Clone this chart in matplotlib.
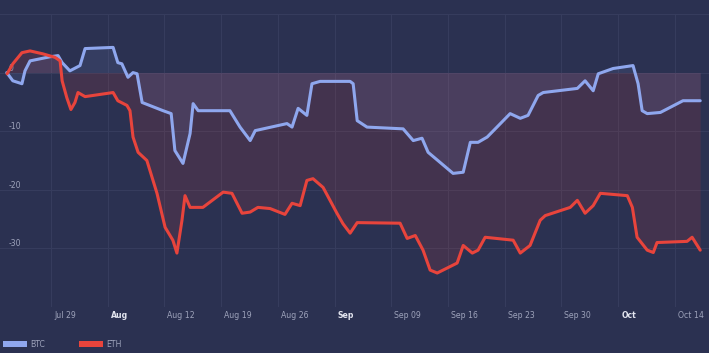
import pandas as pd
import matplotlib
matplotlib.use("Agg")
import matplotlib.pyplot as plt
import matplotlib.transforms as mtransforms
from matplotlib.patches import Patch

# Variation en % depuis le début de la période
btc_dates = [
    "2019-07-23 13:00", "2019-07-24 07:00", "2019-07-25 10:00", "2019-07-25 19:00",
    "2019-07-26 10:00", "2019-07-28 21:00", "2019-07-29 21:00", "2019-07-30 09:00",
    "2019-07-31 08:00", "2019-08-01 14:00", "2019-08-02 05:00", "2019-08-05 16:00",
    "2019-08-06 06:00", "2019-08-06 18:00", "2019-08-07 12:00", "2019-08-08 03:00",
    "2019-08-08 15:00", "2019-08-09 06:00", "2019-08-11 20:00", "2019-08-12 20:00",
    "2019-08-13 07:00", "2019-08-14 07:00", "2019-08-15 04:00", "2019-08-15 13:00",
    "2019-08-16 04:00", "2019-08-20 02:00", "2019-08-21 08:00", "2019-08-22 14:00",
    "2019-08-23 05:00", "2019-08-27 03:00", "2019-08-27 18:00", "2019-08-28 12:00",
    "2019-08-29 14:00", "2019-08-30 05:00", "2019-08-31 05:00", "2019-09-03 22:00",
    "2019-09-04 07:00", "2019-09-04 19:00", "2019-09-06 00:00", "2019-09-10 11:00",
    "2019-09-11 17:00", "2019-09-12 19:00", "2019-09-13 13:00", "2019-09-15 00:00",
    "2019-09-16 15:00", "2019-09-17 21:00", "2019-09-18 18:00", "2019-09-19 17:00",
    "2019-09-20 20:00", "2019-09-22 01:00", "2019-09-23 16:00", "2019-09-24 22:00",
    "2019-09-25 21:00", "2019-09-27 03:00", "2019-09-27 18:00", "2019-10-01 23:00",
    "2019-10-02 22:00", "2019-10-03 22:00", "2019-10-04 13:00", "2019-10-06 09:00",
    "2019-10-08 20:00", "2019-10-09 11:00", "2019-10-09 23:00", "2019-10-10 14:00",
    "2019-10-12 05:00", "2019-10-15 00:00", "2019-10-17 03:00",
]
btc = [
    0.0, -1.4, -1.9, 0.3, 2.0, 2.7, 2.9, 1.7, 0.3, 1.2, 4.1, 4.3,
    1.7, 1.5, -0.8, 0.0, -0.2, -5.1, -6.5, -7.0, -13.3, -15.5, -10.4, -5.3,
    -6.5, -6.5, -9.3, -11.6, -9.9, -8.7, -9.3, -6.1, -7.3, -1.9, -1.5, -1.5,
    -1.9, -8.2, -9.3, -9.6, -11.6, -11.2, -13.6, -15.3, -17.2, -17.0, -11.9, -11.9,
    -11.0, -9.3, -7.0, -7.8, -7.3, -3.9, -3.4, -2.7, -1.4, -3.1, -0.2, 0.7,
    1.2, -1.9, -6.5, -7.0, -6.8, -4.8, -4.8,
]

eth_dates = [
    "2019-07-23 14:00", "2019-07-24 07:00", "2019-07-25 10:00", "2019-07-26 10:00",
    "2019-07-28 00:00", "2019-07-29 12:00", "2019-07-30 03:00", "2019-07-30 09:00",
    "2019-07-30 23:00", "2019-07-31 11:00", "2019-07-31 23:00", "2019-08-01 08:00",
    "2019-08-02 05:00", "2019-08-05 16:00", "2019-08-06 06:00", "2019-08-07 09:00",
    "2019-08-07 18:00", "2019-08-08 03:00", "2019-08-08 18:00", "2019-08-09 20:00",
    "2019-08-11 02:00", "2019-08-12 02:00", "2019-08-13 01:00", "2019-08-13 13:00",
    "2019-08-14 04:00", "2019-08-14 13:00", "2019-08-15 04:00", "2019-08-16 18:00",
    "2019-08-19 06:00", "2019-08-20 08:00", "2019-08-21 14:00", "2019-08-22 14:00",
    "2019-08-23 13:00", "2019-08-25 01:00", "2019-08-26 21:00", "2019-08-27 18:00",
    "2019-08-28 18:00", "2019-08-29 14:00", "2019-08-30 08:00", "2019-08-31 14:00",
    "2019-09-02 07:00", "2019-09-03 01:00", "2019-09-03 22:00", "2019-09-04 19:00",
    "2019-09-10 02:00", "2019-09-10 23:00", "2019-09-11 23:00", "2019-09-12 22:00",
    "2019-09-13 19:00", "2019-09-14 16:00", "2019-09-17 03:00", "2019-09-17 21:00",
    "2019-09-19 00:00", "2019-09-19 17:00", "2019-09-20 14:00", "2019-09-24 01:00",
    "2019-09-24 22:00", "2019-09-26 03:00", "2019-09-27 09:00", "2019-09-28 00:00",
    "2019-10-01 02:00", "2019-10-01 23:00", "2019-10-02 22:00", "2019-10-03 22:00",
    "2019-10-04 19:00", "2019-10-08 03:00", "2019-10-08 18:00", "2019-10-09 08:00",
    "2019-10-10 14:00", "2019-10-11 08:00", "2019-10-11 19:00", "2019-10-15 12:00",
    "2019-10-16 03:00", "2019-10-17 03:00",
]
eth = [
    -0.2, 1.5, 3.4, 3.7, 3.2, 2.6, 2.0, -1.4, -4.3, -6.3, -5.1, -3.4,
    -4.1, -3.4, -4.8, -5.6, -6.5, -11.0, -13.6, -15.0, -20.6, -26.4, -28.6, -30.8,
    -25.2, -21.0, -23.0, -23.0, -20.4, -20.6, -24.0, -23.8, -23.0, -23.2, -24.2, -22.3,
    -22.7, -18.4, -18.1, -19.6, -24.0, -25.8, -27.4, -25.6, -25.7, -28.3, -27.8, -30.3,
    -33.7, -34.2, -32.5, -29.5, -30.8, -30.3, -28.1, -28.6, -30.8, -29.5, -25.2, -24.4,
    -23.0, -21.8, -24.0, -22.7, -20.6, -21.0, -23.0, -28.1, -30.3, -30.7, -29.0, -28.8,
    -28.1, -30.3,
]

tick_dates = ["2019-07-29", "2019-08-05", "2019-08-12", "2019-08-19", "2019-08-26",
              "2019-09-02", "2019-09-09", "2019-09-16", "2019-09-23", "2019-09-30",
              "2019-10-07", "2019-10-14"]
tick_labels = ["Jul 29", "Aug", "Aug 12", "Aug 19", "Aug 26", "Sep", "Sep 09",
               "Sep 16", "Sep 23", "Sep 30", "Oct", "Oct 14"]
month_labels = ["Aug", "Sep", "Oct"]
y_ticks = [10, 0, -10, -20, -30, -40]
y_labels = ["", "0", "-10", "-20", "-30", ""]

bg = "#2b3151"
c_btc = "#8fa7ee"
c_eth = "#e8443c"

bt = pd.to_datetime(btc_dates)
et = pd.to_datetime(eth_dates)

fig = plt.figure(figsize=(7.09, 3.53), dpi=100, facecolor=bg)
ax = fig.add_axes([0, 1 - 307 / 353, 1, (307 - 14) / 353])
ax.set_facecolor(bg)

ax.fill_between(et, eth, 0, color=c_eth, alpha=0.13, lw=0)
ax.fill_between(bt, btc, 0, color=c_btc, alpha=0.10, lw=0)
ax.plot(bt, btc, color=c_btc, lw=2.2, solid_joinstyle="round", solid_capstyle="round")
ax.plot(et, eth, color=c_eth, lw=2.2, solid_joinstyle="round", solid_capstyle="round")

ax.set_xlim(pd.Timestamp("2019-07-22 17:00"), pd.Timestamp("2019-10-18 05:00"))
ax.set_ylim(-40, 10)

ax.set_xticks(pd.to_datetime(tick_dates))
ax.set_xticklabels(tick_labels)
ax.set_yticks(y_ticks)
ax.set_yticklabels(y_labels)

for s in ax.spines.values():
    s.set_visible(False)
ax.grid(True, color="#363c5d", lw=0.8)
ax.set_axisbelow(True)

ax.tick_params(axis="x", length=0, pad=3, labelsize=5.6, labelcolor="#9ea3bb")
ax.tick_params(axis="y", length=0, pad=-6, labelsize=5.6, labelcolor="#9ea3bb")

dx = mtransforms.ScaledTranslation(3 / 100, 0, fig.dpi_scale_trans)
for lbl in ax.get_xticklabels():
    lbl.set_ha("left")
    lbl.set_transform(lbl.get_transform() + dx)
    if lbl.get_text() in month_labels:
        lbl.set_fontweight("bold")
        lbl.set_color("#e4e6f0")
for lbl in ax.get_yticklabels():
    lbl.set_ha("left")
    lbl.set_va("bottom")

handles = [Patch(facecolor=c_btc, edgecolor="none", label="BTC"),
           Patch(facecolor=c_eth, edgecolor="none", label="ETH")]
fig.legend(handles=handles, loc="lower left", bbox_to_anchor=(-0.002, 0.0), ncol=2,
           frameon=False, fontsize=5.6, labelcolor="#9ea3bb", handlelength=3.1,
           handleheight=0.7, handletextpad=0.4, columnspacing=4.4,
           borderaxespad=0.35, borderpad=0.2)

fig.savefig("out.png", dpi=100, facecolor=bg)
